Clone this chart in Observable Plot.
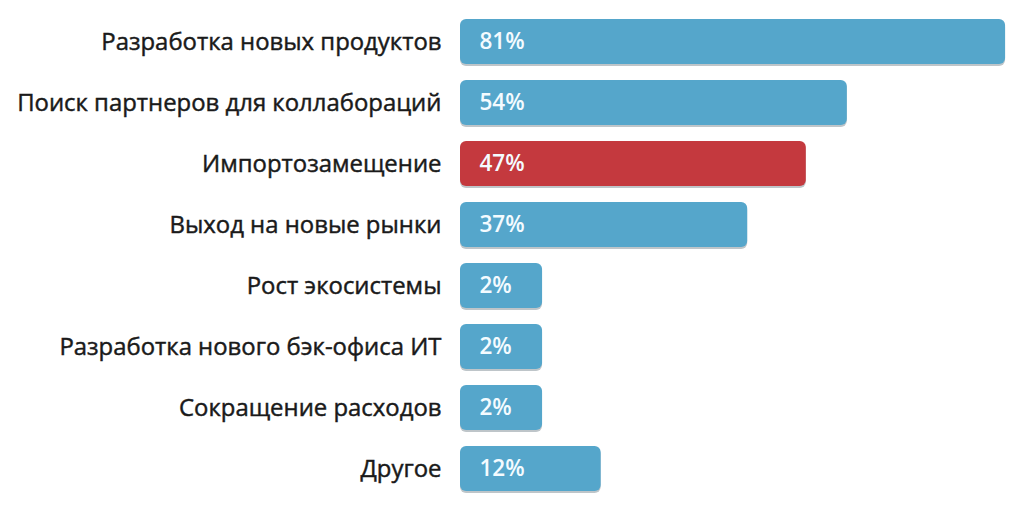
<!DOCTYPE html>
<html>
<head>
<meta charset="utf-8">
<script src="https://cdn.jsdelivr.net/npm/d3@7"></script>
<script src="https://cdn.jsdelivr.net/npm/@observablehq/plot@0.6"></script>
<style>
  html, body { margin: 0; padding: 0; background: #fff; }
  #chart svg { display: block; }
  #chart g[aria-label="y-axis tick label"] text { stroke: #1a1a1a; stroke-width: 0.45px; }
</style>
</head>
<body>
<div id="chart"></div>
<script>
const categories = [
  "Разработка новых продуктов",
  "Поиск партнеров для коллабораций",
  "Импортозамещение",
  "Выход на новые рынки",
  "Рост экосистемы",
  "Разработка нового бэк-офиса ИТ",
  "Сокращение расходов",
  "Другое"
];
const values = [81, 54, 47, 37, 2, 2, 2, 12];
const highlighted = ["Импортозамещение"];

const data = categories.map((c, i) => ({
  category: c,
  value: values[i],
  label: values[i] + "%",
  hl: highlighted.includes(c)
}));

const xMin = -12;

const chart = Plot.plot({
  width: 1033,
  height: 520,
  marginLeft: 460,
  marginRight: 25,
  marginTop: 1,
  marginBottom: 11,
  style: { background: "#fff", fontFamily: "'Open Sans', sans-serif" },
  x: { domain: [xMin, 81.5], axis: null },
  y: { domain: categories, padding: 0.27, label: null },
  marks: [
    Plot.barX(data, {
      y: "category", x1: xMin, x2: "value",
      fill: "#6f7f88", fillOpacity: 0.45, rx: 6, dy: 2
    }),
    Plot.barX(data, {
      y: "category", x1: xMin, x2: "value",
      fill: d => d.hl ? "#c4393e" : "#55a6cb", rx: 6
    }),
    Plot.text(data, {
      y: "category", x: xMin, text: "label",
      textAnchor: "start", dx: 19, fill: "#f4fbff",
      fontSize: 22.5, fontWeight: 600
    }),
    Plot.axisY({
      tickSize: 0, tickPadding: 19, fontSize: 23.9,
      fill: "#1a1a1a", label: null
    })
  ]
});
document.getElementById("chart").append(chart);
</script>
</body>
</html>
